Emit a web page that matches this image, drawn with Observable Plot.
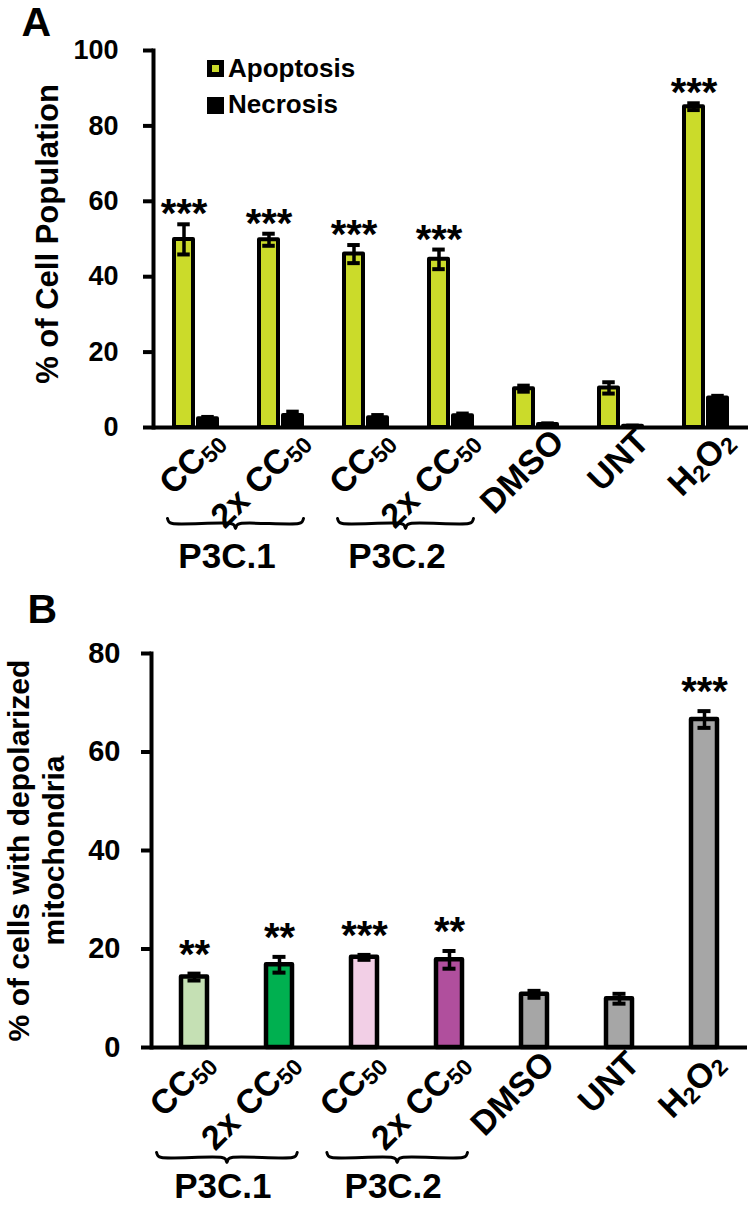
<!DOCTYPE html>
<html>
<head>
<meta charset="utf-8">
<script src="https://cdn.jsdelivr.net/npm/d3@7"></script>
<script src="https://cdn.jsdelivr.net/npm/@observablehq/plot@0.6"></script>
<style>
  html, body { margin: 0; padding: 0; background: #fff; }
  #figure {
    position: relative; width: 751px; height: 1205px; overflow: hidden; background: #fff;
    font-family: "Liberation Sans", Arial, Helvetica, sans-serif; font-weight: bold; color: #000;
  }
  #figure svg { position: absolute; left: 0; }
  .swatch { position: absolute; box-sizing: border-box; width: 17px; height: 17px; border: 5px solid #000; }
  .legend-label { position: absolute; font-size: 26px; line-height: 26px; white-space: nowrap; }
</style>
</head>
<body>
<div id="figure"></div>
<script>
// ---------- data ----------
const conditions = ["P3C.1 CC50", "P3C.1 2x CC50", "P3C.2 CC50", "P3C.2 2x CC50", "DMSO", "UNT", "H2O2"];
const tickLabels = ["CC₅₀", "2x CC₅₀", "CC₅₀", "2x CC₅₀", "DMSO", "UNT", "H₂O₂"];
const compoundGroups = [
  {label: "P3C.1", first: 0, last: 1},
  {label: "P3C.2", first: 2, last: 3}
];

// Panel A: apoptosis / necrosis (% of cell population)
const measures = ["Apoptosis", "Necrosis"];
const apoptosisMean = [49.9, 49.8, 46.0, 44.6, 10.3, 10.5, 85.1];
const apoptosisErr  = [4.0, 1.6, 2.4, 2.6, 0.8, 1.5, 0.9];
const apoptosisStars = ["***", "***", "***", "***", "", "", "***"];
const necrosisMean = [2.3, 3.2, 2.6, 3.1, 0.8, 0.3, 7.8];
const necrosisErr  = [0.5, 1.0, 0.7, 0.6, 0.3, 0.2, 0.6];
const yTicksA = [0, 20, 40, 60, 80, 100];

// Panel B: cells with depolarized mitochondria (%)
const depolMean = [14.3, 16.8, 18.3, 17.8, 10.8, 9.9, 66.6];
const depolErr  = [0.7, 1.6, 0.5, 1.8, 0.7, 1.0, 1.7];
const depolStars = ["**", "**", "***", "**", "", "", "***"];
const yTicksB = [0, 20, 40, 60, 80];

// ---------- styles ----------
const W = 751;
const FONT = "Liberation Sans, Arial, Helvetica, sans-serif";
const measureColors = ["#cbdb2a", "#000000"];
const conditionColors = ["#c5e0b4", "#00b050", "#f2cfe6", "#b04f9d", "#a6a6a6", "#a6a6a6", "#a6a6a6"];
const baseStyle = {background: "transparent", overflow: "visible", fontFamily: FONT, fontWeight: "bold", color: "black"};

const fig = document.getElementById("figure");

// Turn unicode subscript digits in tick labels into smaller, lowered tspans
const SUB = "₀₁₂₃₄₅₆₇₈₉";
function applySubscripts(svg, subSize, shift) {
  svg.querySelectorAll("text").forEach(t => {
    const s = t.textContent;
    if (![...s].some(ch => SUB.includes(ch))) return;
    const runs = [];
    for (const ch of s) {
      const sub = SUB.includes(ch);
      const c = sub ? String(SUB.indexOf(ch)) : ch;
      if (runs.length && runs[runs.length - 1].sub === sub) runs[runs.length - 1].text += c;
      else runs.push({sub, text: c});
    }
    t.textContent = "";
    let lowered = false;
    for (const r of runs) {
      const ts = document.createElementNS("http://www.w3.org/2000/svg", "tspan");
      if (r.sub) {
        ts.setAttribute("font-size", subSize);
        if (!lowered) { ts.setAttribute("dy", shift); lowered = true; }
      } else if (lowered) {
        ts.setAttribute("dy", -shift); lowered = false;
      }
      ts.textContent = r.text;
      t.appendChild(ts);
    }
  });
}

function errorBars(rows, dx, capInset) {
  return [
    Plot.ruleX(rows, {x: "condition", y1: d => d.mean - d.err, y2: d => d.mean + d.err, dx, stroke: "black", strokeWidth: 3.5}),
    Plot.tickY(rows, {x: "condition", y: d => d.mean + d.err, dx, insetLeft: capInset, insetRight: capInset, stroke: "black", strokeWidth: 4}),
    Plot.tickY(rows, {x: "condition", y: d => d.mean - d.err, dx, insetLeft: capInset, insetRight: capInset, stroke: "black", strokeWidth: 4})
  ];
}

// y axis: tick marks, bold numeric labels and the vertical axis line
function yAxis(ticks, fontSize, labelGap) {
  return [
    Plot.axisY({ticks, tickSize: 10, tickFormat: () => "", strokeWidth: 4, label: null}),
    Plot.text(ticks, {y: d => d, text: d => String(d), frameAnchor: "left", textAnchor: "end", dx: -labelGap, fontSize}),
    Plot.frame({anchor: "left", strokeWidth: 4, strokeLinecap: "square"}),
    Plot.ruleY([0], {strokeWidth: 4})
  ];
}

function categoryLabels(dx, dy) {
  return Plot.text(conditions, {
    x: d => d, text: (d, i) => tickLabels[i], frameAnchor: "bottom",
    rotate: -45, textAnchor: "end", lineAnchor: "bottom", fontSize: 34, dx, dy
  });
}

// Curly braces grouping the two concentrations of each compound
function bracePoints(step, leftPad, rightPad, top) {
  const u = 1 / step;
  return compoundGroups.flatMap(g => {
    const L = g.first - leftPad * u, R = g.last + rightPad * u, C = (L + R) / 2;
    const shape = [
      [L, 0], [L + 1.5 * u, 3.5], [L + 5 * u, 5], [C - 5 * u, 5], [C - 1.5 * u, 6.5], [C, 10],
      [C + 1.5 * u, 6.5], [C + 5 * u, 5], [R - 5 * u, 5], [R - 1.5 * u, 3.5], [R, 0]
    ];
    return shape.map(([x, y]) => ({label: g.label, x, y: top + y}));
  });
}

function groupStrip({top, height, marginLeft, marginRight, braceTop, leftPad, rightPad, labelBaseline, labelDx}) {
  const step = (W - marginLeft - marginRight) / conditions.length;
  const center = g => (g.first - leftPad / step + g.last + rightPad / step) / 2;
  const svg = Plot.plot({
    width: W, height, marginLeft, marginRight, marginTop: 0, marginBottom: 0,
    style: baseStyle,
    x: {type: "linear", domain: [-0.5, conditions.length - 0.5], axis: null},
    y: {domain: [0, height], range: [0, height], axis: null},
    marks: [
      Plot.line(bracePoints(step, leftPad, rightPad, braceTop), {
        x: "x", y: "y", z: "label", stroke: "black", strokeWidth: 3,
        curve: "catmull-rom", strokeLinejoin: "round", strokeLinecap: "round"
      }),
      Plot.text(compoundGroups, {x: center, y: () => labelBaseline, text: "label", lineAnchor: "bottom", fontSize: 35, dx: labelDx})
    ]
  });
  svg.style.top = top + "px";
  fig.appendChild(svg);
}

// ---------- Panel A ----------
const rowsA = measures.flatMap(m => conditions.map((c, i) => ({
  condition: c,
  measure: m,
  mean: m === "Apoptosis" ? apoptosisMean[i] : necrosisMean[i],
  err: m === "Apoptosis" ? apoptosisErr[i] : necrosisErr[i],
  stars: m === "Apoptosis" ? apoptosisStars[i] : ""
})));
const offsetA = {Apoptosis: -12, Necrosis: 12};

const plotA = Plot.plot({
  width: W, height: 505,
  marginLeft: 153, marginRight: 3, marginTop: 50, marginBottom: 78,
  style: {...baseStyle, fontSize: "27px"},
  x: {domain: conditions, paddingInner: 0.782, paddingOuter: 0.391, axis: null},
  y: {domain: [0, 100], axis: null},
  color: {domain: measures, range: measureColors},
  marks: [
    ...measures.flatMap(m => {
      const rows = rowsA.filter(d => d.measure === m);
      return [
        Plot.barY(rows, {x: "condition", y: "mean", fill: "measure", stroke: "black", strokeWidth: 4, strokeLinejoin: "round", dx: offsetA[m]}),
        ...errorBars(rows, offsetA[m], 3.25)
      ];
    }),
    Plot.text(rowsA.filter(d => d.stars), {
      x: "condition", y: d => d.mean + d.err, text: "stars",
      dx: offsetA.Apoptosis, dy: 3, lineAnchor: "bottom", fontSize: 40
    }),
    ...yAxis(yTicksA, 27, 35),
    categoryLabels(30, 16),
    Plot.text(["% of Cell Population"], {text: d => d, frameAnchor: "left", textAnchor: "middle", rotate: -90, lineAnchor: "bottom", dx: -96, dy: -5, fontSize: 31}),
    Plot.text(["A"], {text: d => d, frameAnchor: "top-left", textAnchor: "start", lineAnchor: "bottom", dx: -132, dy: -15, fontSize: 41})
  ]
});
applySubscripts(plotA, 23, 4);
plotA.style.top = "0px";
fig.appendChild(plotA);

groupStrip({top: 505, height: 75, marginLeft: 153, marginRight: 3, braceTop: 13, leftPad: 28.5, rightPad: 22.5, labelBaseline: 62, labelDx: -8.5});

// legend for panel A
measures.forEach((m, i) => {
  const sw = document.createElement("div");
  sw.className = "swatch";
  sw.style.left = "207px";
  sw.style.top = (60 + 37 * i) + "px";
  sw.style.background = measureColors[i];
  const lb = document.createElement("div");
  lb.className = "legend-label";
  lb.style.left = "228px";
  lb.style.top = (55 + 36 * i) + "px";
  lb.textContent = m;
  fig.append(sw, lb);
});

// ---------- Panel B ----------
const rowsB = conditions.map((c, i) => ({condition: c, mean: depolMean[i], err: depolErr[i], stars: depolStars[i]}));

const plotB = Plot.plot({
  width: W, height: 550,
  marginLeft: 151, marginRight: 4, marginTop: 73, marginBottom: 83,
  style: {...baseStyle, fontSize: "28px"},
  x: {domain: conditions, paddingInner: 0.694, paddingOuter: 0.347, axis: null},
  y: {domain: [0, 80], axis: null},
  color: {domain: conditions, range: conditionColors},
  marks: [
    Plot.barY(rowsB, {x: "condition", y: "mean", fill: "condition", stroke: "black", strokeWidth: 4.5, strokeLinejoin: "round"}),
    ...errorBars(rowsB, 0, 6.5),
    Plot.text(rowsB.filter(d => d.stars), {
      x: "condition", y: d => d.mean + d.err, text: "stars",
      dy: -6, lineAnchor: "bottom", fontSize: 40
    }),
    ...yAxis(yTicksB, 29, 31),
    categoryLabels(22, 18),
    Plot.text(["% of cells with depolarized\nmitochondria"], {text: d => d, frameAnchor: "left", textAnchor: "middle", rotate: -90, lineAnchor: "bottom", lineHeight: 1.15, dx: -88, fontSize: 30}),
    Plot.text(["B"], {text: d => d, frameAnchor: "top-left", textAnchor: "start", lineAnchor: "bottom", dx: -124, dy: -31, fontSize: 41})
  ]
});
applySubscripts(plotB, 23, 4);
plotB.style.top = "580px";
fig.appendChild(plotB);

groupStrip({top: 1130, height: 75, marginLeft: 151, marginRight: 4, braceTop: 22, leftPad: 37.5, rightPad: 18, labelBaseline: 67, labelDx: -4});
</script>
</body>
</html>
